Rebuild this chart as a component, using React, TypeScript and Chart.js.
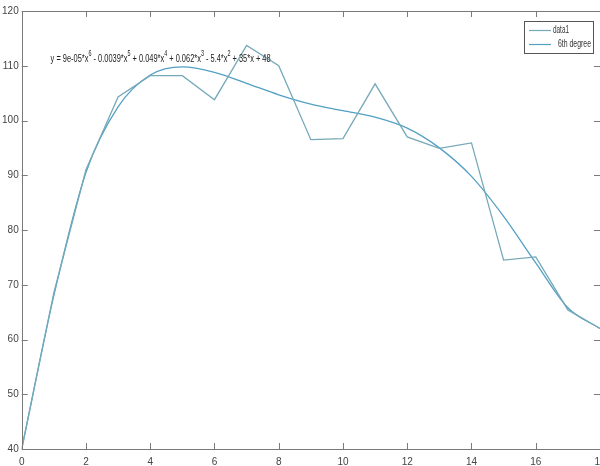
import React, { useEffect, useRef } from "react";
import { Chart, registerables } from "chart.js";

Chart.register(...registerables);

const xValues = [0, 1, 2, 3, 4, 5, 6, 7, 8, 9, 10, 11, 12, 13, 14, 15, 16, 17, 18];
const data1 = [40, 68.5, 91, 104.3, 108.2, 108.2, 103.8, 113.7, 110, 96.5, 96.7, 106.7, 97, 94.9, 95.9, 74.5, 75.1, 65.4, 62];
const fit6 = [40, 68, 90.5, 102.5, 108.3, 109.8, 108.8, 106.8, 104.7, 103, 101.8, 100.6, 98.6, 95, 89.8, 82.5, 74, 65.8, 62];
const seriesLabels = ["data1", "6th degree"];
const equationParts: [string, boolean][] = [
  ["y = 9e-05*x", false], ["6", true],
  [" - 0.0039*x", false], ["5", true],
  [" + 0.049*x", false], ["4", true],
  [" + 0.062*x", false], ["3", true],
  [" - 5.4*x", false], ["2", true],
  [" + 35*x + 48", false],
];
const xMin = 0, xMax = 18, xStep = 2;
const yMin = 40, yMax = 120, yStep = 10;

const FONT = '"Liberation Sans", Arial, sans-serif';

function fitText(ctx: any, text: string, x: number, y: number, w: number) {
  const m = ctx.measureText(text).width;
  ctx.save();
  ctx.translate(x, y);
  ctx.scale(w / m, 1);
  ctx.fillText(text, 0, 0);
  ctx.restore();
}

const decorPlugin = {
  id: "decor",
  afterDraw(chart: any) {
    const ctx = chart.ctx;
    const { left, right, top, bottom } = chart.chartArea;
    const xs = chart.scales.x;
    const ys = chart.scales.y;
    ctx.save();
    // box
    ctx.strokeStyle = "#7a7a7a";
    ctx.lineWidth = 1;
    ctx.strokeRect(Math.round(left) + 0.5, Math.round(top) + 0.5, Math.round(right - left), Math.round(bottom - top));
    // inward ticks
    const tl = 6;
    ctx.beginPath();
    for (let v = xMin; v <= xMax; v += xStep) {
      const px = Math.round(xs.getPixelForValue(v)) + 0.5;
      ctx.moveTo(px, bottom); ctx.lineTo(px, bottom - tl);
      ctx.moveTo(px, top); ctx.lineTo(px, top + tl);
    }
    for (let v = yMin; v <= yMax; v += yStep) {
      const py = Math.round(ys.getPixelForValue(v)) + 0.5;
      ctx.moveTo(left, py); ctx.lineTo(left + tl, py);
      ctx.moveTo(right, py); ctx.lineTo(right - tl, py);
    }
    ctx.stroke();

    // equation text
    const ex = xs.getPixelForValue(0.9);
    const ey = ys.getPixelForValue(111.2);
    const mainFont = `11px ${FONT}`;
    const supFont = `8px ${FONT}`;
    let total = 0;
    for (const [t, sup] of equationParts) {
      ctx.font = sup ? supFont : mainFont;
      total += ctx.measureText(t).width;
    }
    const targetW = 220;
    const sx = targetW / total;
    ctx.translate(ex, ey);
    ctx.scale(sx, 1.05);
    ctx.fillStyle = "#222";
    ctx.textBaseline = "middle";
    ctx.textAlign = "left";
    let cx = 0;
    for (const [t, sup] of equationParts) {
      ctx.font = sup ? supFont : mainFont;
      ctx.fillText(t, cx, sup ? -5 : 0);
      cx += ctx.measureText(t).width;
    }
    ctx.restore();

    // legend
    ctx.save();
    const lx = 524, ly = 21, lw = 69, lh = 32;
    ctx.fillStyle = "#fff";
    ctx.fillRect(lx, ly, lw, lh);
    ctx.strokeStyle = "#555";
    ctx.lineWidth = 1;
    ctx.strokeRect(lx + 0.5, ly + 0.5, lw, lh);
    ctx.font = `10px ${FONT}`;
    ctx.textBaseline = "middle";
    ctx.textAlign = "left";
    const textX = [553, 558];
    const textW = [16, 33];
    chart.data.datasets.forEach((ds: any, i: number) => {
      const yy = ly + 9 + i * 14;
      ctx.strokeStyle = ds.borderColor;
      ctx.lineWidth = 1.2;
      ctx.beginPath();
      ctx.moveTo(lx + 5, yy + 0.5);
      ctx.lineTo(lx + 27, yy + 0.5);
      ctx.stroke();
      ctx.fillStyle = "#333";
      fitText(ctx, ds.label, textX[i], yy, textW[i]);
    });
    ctx.restore();
  },
};

export default function App() {
  const ref = useRef<HTMLCanvasElement | null>(null);
  useEffect(() => {
    if (!ref.current) return;
    const chart = new Chart(ref.current, {
      type: "line",
      data: {
        datasets: [
          {
            label: seriesLabels[0],
            data: xValues.map((x, i) => ({ x, y: data1[i] })),
            borderColor: "#76a9b8",
            borderWidth: 1.3,
            pointRadius: 0,
            tension: 0,
            fill: false,
          },
          {
            label: seriesLabels[1],
            data: xValues.map((x, i) => ({ x, y: fit6[i] })),
            borderColor: "#53a0c4",
            borderWidth: 1.3,
            pointRadius: 0,
            cubicInterpolationMode: "monotone",
            fill: false,
          },
        ],
      },
      plugins: [decorPlugin],
      options: {
        animation: false,
        responsive: true,
        maintainAspectRatio: false,
        layout: { padding: { left: 0, top: 11, right: 40, bottom: 0 } },
        plugins: { legend: { display: false }, tooltip: { enabled: false } },
        scales: {
          x: {
            type: "linear",
            min: xMin,
            max: xMax,
            grid: { display: false, drawTicks: false },
            border: { display: false },
            ticks: { stepSize: xStep, padding: 7, color: "#444", font: { family: FONT, size: 10 }, maxRotation: 0 },
            afterFit: (s: any) => { s.height = 17; },
          },
          y: {
            type: "linear",
            min: yMin,
            max: yMax,
            grid: { display: false, drawTicks: false },
            border: { display: false },
            ticks: { stepSize: yStep, padding: 3, color: "#444", font: { family: FONT, size: 10 } },
            afterFit: (s: any) => { s.width = 21.7; },
          },
        },
      },
    } as any);
    return () => chart.destroy();
  }, []);
  return (
    <div style={{ position: "absolute", left: 0, top: 0, width: 600, height: 466, overflow: "hidden", background: "#fff" }}>
      <div style={{ position: "relative", width: 640, height: 466 }}>
        <canvas ref={ref} />
      </div>
    </div>
  );
}
